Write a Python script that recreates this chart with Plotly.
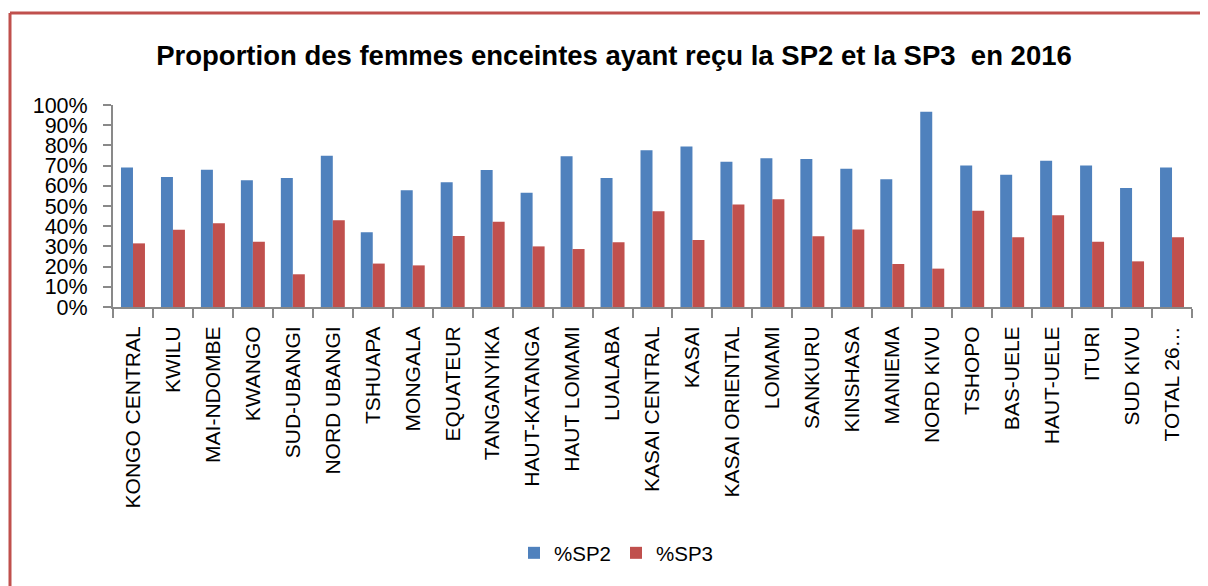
import plotly.graph_objects as go

categories = ["KONGO CENTRAL", "KWILU", "MAI-NDOMBE", "KWANGO", "SUD-UBANGI", "NORD UBANGI",
              "TSHUAPA", "MONGALA", "EQUATEUR", "TANGANYIKA", "HAUT-KATANGA", "HAUT LOMAMI",
              "LUALABA", "KASAI CENTRAL", "KASAI", "KASAI ORIENTAL", "LOMAMI", "SANKURU",
              "KINSHASA", "MANIEMA", "NORD KIVU", "TSHOPO", "BAS-UELE", "HAUT-UELE", "ITURI",
              "SUD KIVU", "TOTAL 26…"]
sp2 = [0.69, 0.644, 0.68, 0.627, 0.639, 0.749, 0.37, 0.578, 0.617, 0.678, 0.566, 0.746,
       0.639, 0.776, 0.795, 0.719, 0.736, 0.733, 0.685, 0.632, 0.967, 0.701, 0.655, 0.724,
       0.70, 0.589, 0.69]
sp3 = [0.315, 0.383, 0.414, 0.323, 0.162, 0.429, 0.215, 0.206, 0.351, 0.422, 0.30, 0.287,
       0.32, 0.474, 0.332, 0.507, 0.533, 0.35, 0.384, 0.213, 0.19, 0.477, 0.345, 0.454,
       0.323, 0.226, 0.345]
y_ticks = [0, 0.1, 0.2, 0.3, 0.4, 0.5, 0.6, 0.7, 0.8, 0.9, 1.0]
y_tick_labels = ["0%", "10%", "20%", "30%", "40%", "50%", "60%", "70%", "80%", "90%", "100%"]

FONT = "Liberation Sans, Arial, sans-serif"
BLUE = "#4F81BD"
RED = "#C0504D"

fig = go.Figure()
fig.add_trace(go.Bar(name="%SP2", x=categories, y=sp2, marker=dict(color=BLUE, line=dict(width=0))))
fig.add_trace(go.Bar(name="%SP3", x=categories, y=sp3, marker=dict(color=RED, line=dict(width=0))))

# the page adds an 8px body margin, so the figure is laid out 8px up/left of the window
OFF = 8
W, H = 1208 - OFF, 586 - OFF
L, R, T, B = 113 - OFF, 16, 105 - OFF, 586 - 307
PW, PH = W - L - R, H - T - B

fig.update_layout(
    width=W, height=H,
    margin=dict(l=L, r=R, t=T, b=B, pad=0),
    paper_bgcolor="white", plot_bgcolor="white",
    barmode="group", bargap=0.4, bargroupgap=0,
    font=dict(family=FONT, color="black"),
    title=dict(text="<b>Proportion des femmes enceintes ayant reçu la SP2 et la SP3  en 2016</b>",
               x=(614 - OFF) / W, xanchor="center", y=1 - (55 - OFF) / H, yanchor="middle",
               font=dict(size=27.5, family=FONT, color="black")),
    showlegend=True,
    legend=dict(orientation="h", x=(616 - OFF - L) / PW, xanchor="center",
                y=(307 - 553) / PH, yanchor="middle",
                font=dict(size=20.5, family=FONT), itemwidth=30, traceorder="normal"),
    xaxis=dict(type="category", tickangle=-90, tickfont=dict(size=21, family=FONT),
               showline=True, linecolor="#898989", linewidth=2,
               ticks="outside", tickson="boundaries", ticklen=9, tickcolor="#898989", tickwidth=2,
               ticklabelstandoff=9,
               showgrid=False, zeroline=False, fixedrange=True),
    yaxis=dict(range=[0, 1], tickvals=y_ticks, ticktext=y_tick_labels,
               tickfont=dict(size=21.5, family=FONT),
               showline=True, linecolor="#898989", linewidth=2,
               ticks="outside", ticklen=8, tickcolor="#898989", tickwidth=2,
               ticklabelstandoff=11,
               showgrid=False, zeroline=False, fixedrange=True),
)

# red frame: only top and left edges are visible in the reference
fx0 = (10 - OFF - L) / PW
fx1 = (W + 20 - L) / PW
fy_top = (H - B - (13 - OFF)) / PH
fy_bot = (H - B - (H + 20)) / PH
fig.add_shape(type="line", xref="paper", yref="paper", x0=fx0, x1=fx1, y0=fy_top, y1=fy_top,
              line=dict(color=RED, width=3), layer="above")
fig.add_shape(type="line", xref="paper", yref="paper", x0=fx0, x1=fx0, y0=fy_top, y1=fy_bot,
              line=dict(color=RED, width=3), layer="above")

fig.write_html("out.html")
